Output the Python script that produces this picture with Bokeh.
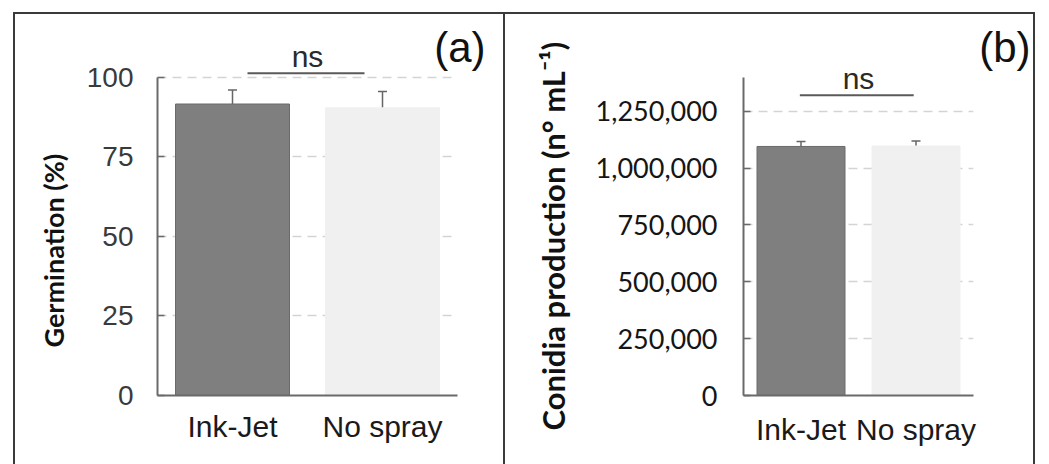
import math
from bokeh.plotting import figure
from bokeh.layouts import row, column
from bokeh.models import (ColumnDataSource, FactorRange, Range1d, FixedTicker,
                          NumeralTickFormatter, Whisker, TeeHead, Title, Spacer)
from bokeh.transform import dodge
from bokeh.core.properties import value
from bokeh.embed import file_html
from bokeh.resources import INLINE

# ---------------- data ----------------
categories = ["Ink-Jet", "No spray"]
bar_colors = ["#7f7f7f", "#f0f0f0"]
bar_lines = ["#6a6a6a", "#f0f0f0"]

germination = [91.6, 90.4]          # %
germination_err = [4.4, 5.1]
germ_ticks = [0, 25, 50, 75, 100]

conidia = [1095000, 1097000]        # n° mL-1
conidia_err = [22000, 22000]
conidia_ticks = [0, 250000, 500000, 750000, 1000000, 1250000]

ns_label = "ns"
ns_germ_y = 101.3
ns_conidia_y = 1320600

BORDER = "#3a3a3a"


def make_panel(vals, errs, ticks, y_end, axis_top, width, height, mb_left, mb_right,
               mb_bottom, mb_top, bar_width, tick_font, tick_color, tick_size,
               tick_standoff, x_standoff, ns_y, ns_dodge, title, title_font,
               title_offset, title_standoff, letter, letter_offset, fmt=None):
    p = figure(x_range=FactorRange(*categories, range_padding=0),
               y_range=Range1d(0, y_end),
               width=width, height=height, output_backend="svg",
               toolbar_location=None, tools="",
               min_border_left=mb_left, min_border_right=mb_right,
               min_border_bottom=mb_bottom, min_border_top=mb_top)
    p.outline_line_color = None
    p.background_fill_color = "white"
    p.border_fill_color = "white"

    src = ColumnDataSource(dict(
        x=categories, top=vals, color=bar_colors, line=bar_lines,
        upper=[v + e for v, e in zip(vals, errs)],
        lower=[v - e for v, e in zip(vals, errs)]))

    p.vbar(x="x", top="top", width=bar_width, source=src, fill_color="color",
           line_color="line", line_width=1)

    w = Whisker(base="x", upper="upper", lower="lower", source=src,
                line_color="#666666", line_width=1.5,
                upper_head=TeeHead(size=9, line_color="#666666", line_width=1.5),
                lower_head=TeeHead(size=9, line_color="#666666", line_width=1.5))
    p.add_layout(w)

    # significance bracket
    ns_src = ColumnDataSource(dict(x0=[categories[0]], x1=[categories[1]],
                                   y=[ns_y], t=[ns_label]))
    p.segment(x0=dodge("x0", ns_dodge[0], range=p.x_range), y0="y",
              x1=dodge("x1", ns_dodge[1], range=p.x_range), y1="y",
              source=ns_src, line_color="#5a5a5a", line_width=2)
    p.text(x=dodge("x0", 0.5, range=p.x_range), y="y", text="t", source=ns_src,
           text_align="center", text_baseline="bottom",
           text_font=value("Liberation Sans"), text_font_size="30px",
           text_color="#2a2a2a")

    # grid
    p.xgrid.grid_line_color = None
    p.ygrid.grid_line_color = "#d4d4d4"
    p.ygrid.grid_line_width = 1.5
    p.ygrid.grid_line_dash = "9 6"
    p.ygrid.ticker = FixedTicker(ticks=ticks)

    # y axis
    ya = p.yaxis[0]
    ya.ticker = FixedTicker(ticks=ticks)
    ya.bounds = (0, axis_top)
    ya.axis_line_color = "#6a6a6a"
    ya.axis_line_width = 2
    ya.major_tick_in = 7
    ya.major_tick_out = 0
    ya.major_tick_line_color = "#6a6a6a"
    ya.major_tick_line_width = 1.5
    ya.minor_tick_line_color = None
    ya.major_label_text_font = tick_font
    ya.major_label_text_font_size = tick_size
    ya.major_label_text_color = tick_color
    ya.major_label_standoff = tick_standoff
    if fmt is not None:
        ya.formatter = fmt

    # x axis
    xa = p.xaxis[0]
    xa.axis_line_color = "#6a6a6a"
    xa.axis_line_width = 2
    xa.major_tick_line_color = None
    xa.minor_tick_line_color = None
    xa.major_label_text_font = "Liberation Sans"
    xa.major_label_text_font_size = "30px"
    xa.major_label_text_color = "#1a1a1a"
    xa.major_label_standoff = x_standoff

    # axis title (as a side title so it can be shifted along the axis)
    p.add_layout(Title(text=title, align="left", offset=title_offset,
                       standoff=title_standoff, text_font="Lato",
                       text_font_style="bold", text_font_size=title_font,
                       text_color="#111111"), "left")
    # panel letter
    p.add_layout(Title(text=letter, align="right", offset=letter_offset,
                       standoff=-52, text_font="Liberation Sans",
                       text_font_style="normal", text_font_size="42px",
                       text_color="#111111"), "above")
    return p


p1 = make_panel(germination, germination_err, germ_ticks, 110.3, 100,
                488, 450, 142, 46, 66, 30, 0.76,
                "Liberation Sans", "#3a3a3a", "28px", 24, 8,
                ns_germ_y, (0.1, -0.12), "Germination (%)", "27px", 48, 28,
                "(a)", -28)

p2 = make_panel(conidia, conidia_err, conidia_ticks, 1543300, 1400000,
                528, 450, 238, 60, 69, 30, 0.765,
                "Lato", "#151515", "27px", 26, 11,
                ns_conidia_y, (-0.01, -0.02), "Conidia production (n\u00b0 mL\u207b\u00b9)",
                "31px", -35, 42, "(b)", -57,
                fmt=NumeralTickFormatter(format="0,0"))


def bar(w, h):
    return Spacer(width=w, height=h, styles={"background-color": BORDER})


layout = column(
    bar(1022, 2),
    row(bar(2, 450), p1, bar(2, 450), p2, bar(2, 450), spacing=0),
    spacing=0, margin=(12, 0, 0, 13))

open("out.html", "w").write(file_html(layout, INLINE))
